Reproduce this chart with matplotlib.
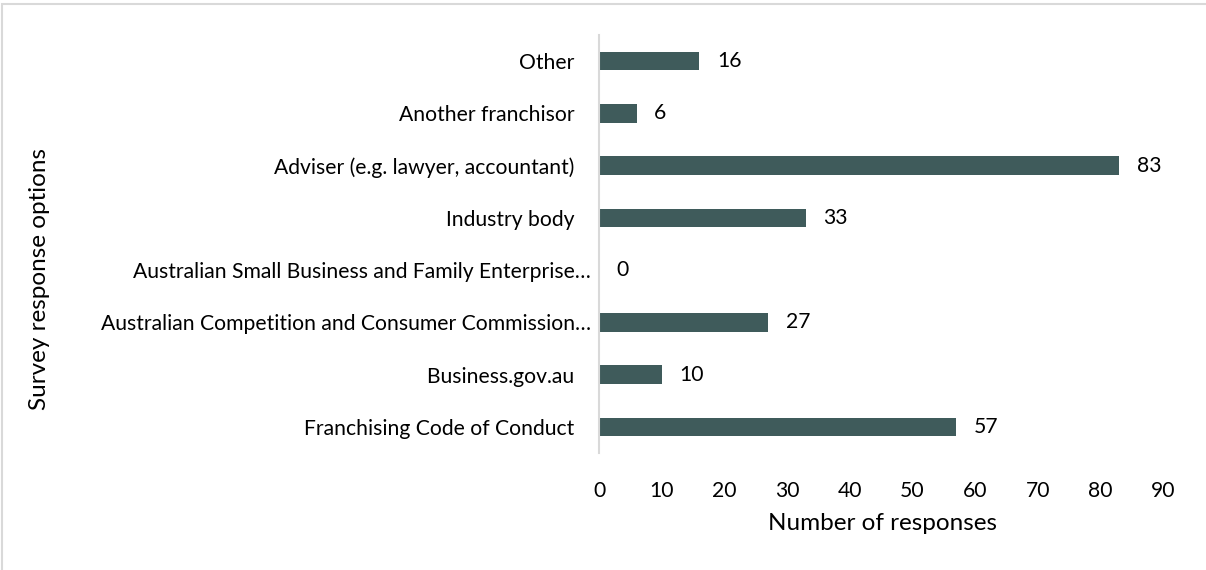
import matplotlib.pyplot as plt
from matplotlib.patches import Rectangle

categories = ["Franchising Code of Conduct", "Business.gov.au",
              "Australian Competition and Consumer Commission\u2026",
              "Australian Small Business and Family Enterprise\u2026",
              "Industry body", "Adviser (e.g. lawyer, accountant)",
              "Another franchisor", "Other"]
values = [57, 10, 27, 0, 33, 83, 6, 16]
xticks = [0, 10, 20, 30, 40, 50, 60, 70, 80, 90]

plt.rcParams["font.family"] = ["Lato", "DejaVu Sans"]

fig = plt.figure(figsize=(12.06, 5.70), dpi=100)
ax = fig.add_axes([599/1206, 1-453/570, 564/1206, 418/570])

y = range(len(categories))
ax.barh(y, values, height=0.35, color="#3F5B5B")
for i, v in zip(y, values):
    ax.text(v + 2.8, i, str(v), va="center", ha="left", fontsize=15.2, color="#000000")

# labels that are not cut off sit a little further from the axis
labels = [c if c.endswith("\u2026") else c + "   " for c in categories]

ax.set_xlim(0, 90)
ax.set_ylim(-0.5, len(categories) - 0.5)
ax.set_xticks(xticks)
ax.set_yticks(list(y))
ax.set_yticklabels(labels)
ax.tick_params(axis="both", length=0, labelsize=15.2, colors="#000000")
ax.tick_params(axis="y", pad=6)
ax.tick_params(axis="x", pad=20)

for s in ["top", "right", "bottom"]:
    ax.spines[s].set_visible(False)
ax.spines["left"].set_color("#D9D9D9")
ax.spines["left"].set_linewidth(1.5)

fig.text(882/1206, 1-524/570, "Number of responses", ha="center", va="center", fontsize=17.5)
fig.text(40/1206, 1-279/570, "Survey response options", ha="center", va="center",
         rotation=90, fontsize=17.5)

fig.patches.append(Rectangle((2/1206, -0.1), 1.2, 1-4/570+0.1, transform=fig.transFigure,
                             fill=False, edgecolor="#D9D9D9", linewidth=1.5))

fig.savefig("out.png", dpi=100)
